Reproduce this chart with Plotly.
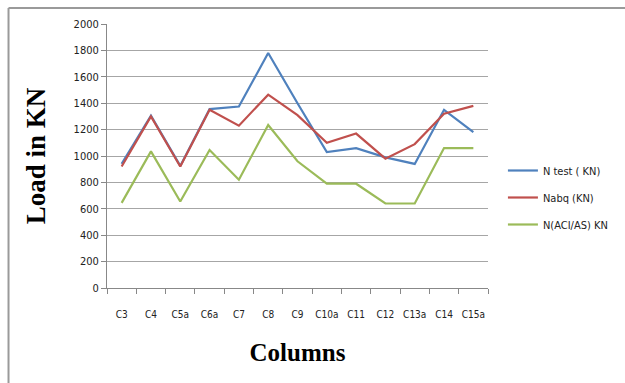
import plotly.graph_objects as go

# Column labels and loads (kN)
columns = ["C3", "C4", "C5a", "C6a", "C7", "C8", "C9", "C10a", "C11", "C12", "C13a", "C14", "C15a"]
n_test = [940, 1305, 925, 1355, 1375, 1780, 1400, 1030, 1060, 990, 940, 1350, 1180]
n_abq = [920, 1300, 920, 1350, 1230, 1465, 1310, 1100, 1170, 980, 1090, 1320, 1380]
n_aci = [645, 1035, 655, 1045, 820, 1235, 960, 790, 790, 640, 640, 1060, 1060]

series_names = ["N test ( KN)", "Nabq (KN)", "N(ACI/AS) KN"]
series_colors = ["#4F81BD", "#C0504D", "#9BBB59"]

W, H = 625, 383
L, R, T, B = 107, 135, 24, 95
pw, ph = W - L - R, H - T - B

fig = go.Figure()
for i, (name, vals, col) in enumerate(zip(series_names, [n_test, n_abq, n_aci], series_colors)):
    fig.add_trace(go.Scatter(
        x=columns, y=vals, mode="lines", name=name,
        line=dict(color=col, width=2.2), legendgroup=f"g{i}",
    ))

tick_font = dict(family="DejaVu Sans Condensed, DejaVu Sans", size=11, color="#222222")
xtick_font = dict(family="DejaVu Sans Condensed, DejaVu Sans", size=10, color="#222222")

fig.update_layout(
    width=W, height=H,
    margin=dict(l=L, r=R, t=T, b=B, pad=0),
    paper_bgcolor="white", plot_bgcolor="white",
    showlegend=True,
    legend=dict(
        x=(505 - L) / pw, y=1 - (156 - T) / ph, xanchor="left", yanchor="top",
        font=dict(family="DejaVu Sans Condensed, DejaVu Sans", size=11, color="#222222"),
        traceorder="grouped", tracegroupgap=8, itemwidth=30,
        bgcolor="rgba(0,0,0,0)",
    ),
    xaxis=dict(
        type="category", showgrid=False, showline=True, linecolor="#888888", linewidth=1,
        ticks="outside", tickson="boundaries", ticklen=5, tickcolor="#888888",
        tickfont=xtick_font, tickangle=0, ticklabelstandoff=17,
        range=[-0.5, len(columns) - 0.5],
        title=dict(text="<b>Columns</b>", font=dict(family="Liberation Serif", size=25, color="black"), standoff=24),
    ),
    yaxis=dict(
        range=[0, 2000], dtick=200, showgrid=True, gridcolor="#a6a6a6", gridwidth=1,
        showline=True, linecolor="#888888", linewidth=1, zeroline=False,
        ticks="outside", ticklen=5, tickcolor="#888888", tickfont=tick_font,
        title=dict(text="<b>Load in KN</b>", font=dict(family="Liberation Serif", size=27, color="black"), standoff=20),
    ),
)

# Outer frame: top and left edges
fig.add_shape(type="line", xref="paper", yref="paper",
              x0=(8 - L) / pw, x1=(W + 5 - L) / pw, y0=1 + (T - 8) / ph, y1=1 + (T - 8) / ph,
              line=dict(color="#9a9a9a", width=2))
fig.add_shape(type="line", xref="paper", yref="paper",
              x0=(8 - L) / pw, x1=(8 - L) / pw, y0=1 + (T - 8) / ph, y1=-(B + 5) / ph,
              line=dict(color="#9a9a9a", width=2))

fig.write_html("out.html")
